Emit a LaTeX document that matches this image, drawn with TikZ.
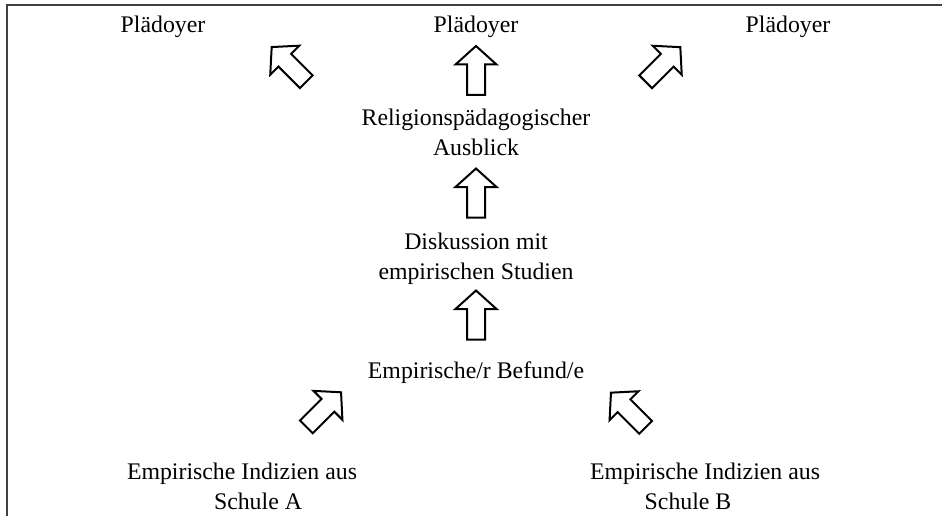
\documentclass[tikz,border=0pt]{standalone}
\usepackage{fontspec}
\setmainfont{Liberation Serif}
\begin{document}
\begin{tikzpicture}[x=1pt,y=-1pt,
  lbl/.style={font=\fontsize{23.8pt}{30pt}\selectfont, inner sep=0pt, align=center, anchor=base},
  blockarrow/.style={draw=black, line width=2pt, fill=white, line join=miter},
  frameline/.style={draw=black!75, line width=2pt},
  uparrow/.pic={\draw[blockarrow] (0pt,24.5pt) -- (20.5pt,6pt) -- (9pt,6pt) -- (9pt,-24.5pt)
      -- (-9pt,-24.5pt) -- (-9pt,6pt) -- (-20.5pt,6pt) -- cycle;}]
\useasboundingbox (0,0) rectangle (942,516);
\draw[frameline] (942,5.5) -- (7,5.5) -- (7,516);

% anchor=base of a multi-line node is the baseline of its last line
\node[lbl] (pl) at (163,32.5) {Plädoyer};
\node[lbl] (pc) at (476,32.5) {Plädoyer};
\node[lbl] (pr) at (788,32.5) {Plädoyer};
\node[lbl] (rel) at (476,156) {Religionspädagogischer\\Ausblick};
\node[lbl] (disk) at (476,279) {Diskussion mit\\empirischen Studien};
\node[lbl] (bef) at (476,378) {Empirische/r Befund/e};
\node[lbl] (sa1) at (242,479) {Empirische Indizien aus};
\node[lbl] (sa2) at (258,509) {Schule A};
\node[lbl] (sb1) at (705,479) {Empirische Indizien aus};
\node[lbl] (sb2) at (688,509) {Schule B};

\coordinate (a1) at (289,64.4);
\coordinate (a2) at (476,70.5);
\coordinate (a3) at (663,64.5);
\coordinate (a4) at (476,193);
\coordinate (a5) at (476,315);
\coordinate (a6) at (323.7,409.6);
\coordinate (a7) at (628.3,410);

\pic[rotate=45] at (a1) {uparrow};
\pic at (a2) {uparrow};
\pic[rotate=-45] at (a3) {uparrow};
\pic at (a4) {uparrow};
\pic at (a5) {uparrow};
\pic[rotate=-45] at (a6) {uparrow};
\pic[rotate=45] at (a7) {uparrow};
\end{tikzpicture}
\end{document}
